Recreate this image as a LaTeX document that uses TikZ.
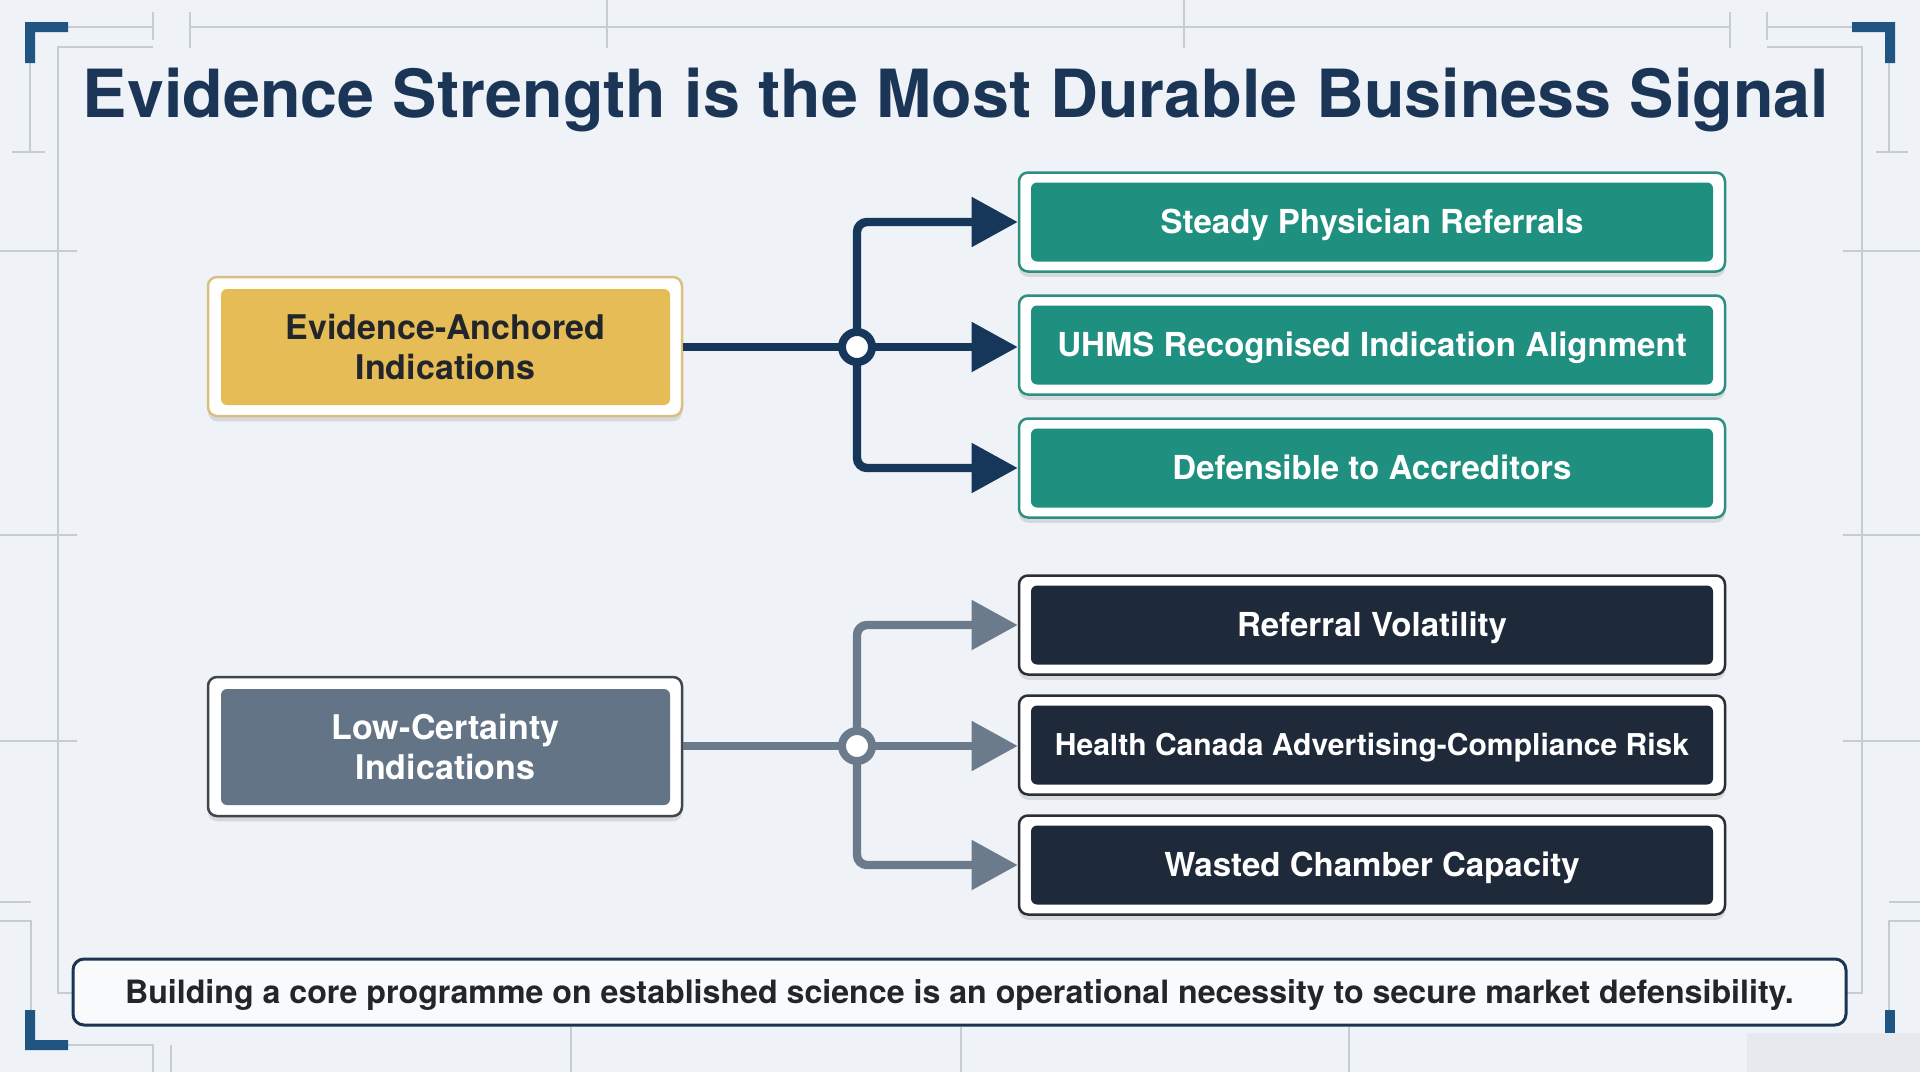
\documentclass[tikz,border=0pt]{standalone}
\usepackage{fontspec}
\setmainfont{TeX Gyre Heros}
\usetikzlibrary{arrows.meta,shadows}
\newlength\pxl \setlength\pxl{0.02cm}
\definecolor{bgc}{HTML}{EFF2F6}
\definecolor{gridc}{HTML}{C5CCD4}
\definecolor{brackc}{HTML}{1F5580}
\definecolor{titlec}{HTML}{1A3556}
\definecolor{navyc}{HTML}{16365A}
\definecolor{grayln}{HTML}{6B7B8C}
\definecolor{goldc}{HTML}{E5BC56}
\definecolor{goldedge}{HTML}{D9C080}
\definecolor{slatec}{HTML}{637486}
\definecolor{slateedge}{HTML}{40464E}
\definecolor{tealc}{HTML}{1F9080}
\definecolor{tealedge}{HTML}{2D8F82}
\definecolor{darkc}{HTML}{1E2A3A}
\definecolor{darkedge}{HTML}{2A2F36}
\definecolor{inkc}{HTML}{22262B}
\definecolor{footc}{HTML}{1A3550}
\definecolor{coverc}{HTML}{E6E9ED}
\tikzset{
  gridln/.style={draw=gridc, line width=1.6\pxl},
  shad/.style={drop shadow={shadow xshift=0pt, shadow yshift=-3pt, opacity=0.10, fill=black}},
  leftouter/.style={draw=#1, line width=2.5\pxl, fill=white, rounded corners=9\pxl, minimum width=474\pxl, minimum height=139\pxl, inner sep=0pt, shad},
  leftinner/.style={fill=#1, rounded corners=6\pxl, minimum width=449\pxl, minimum height=116\pxl, inner sep=0pt, align=center, font=\bfseries\fontsize{19.35}{22.8}\selectfont},
  rightouter/.style={draw=#1, line width=2.5\pxl, fill=white, rounded corners=9\pxl, minimum width=706\pxl, minimum height=99\pxl, inner sep=0pt, shad},
  rightinner/.style={fill=#1, rounded corners=6\pxl, minimum width=682\pxl, minimum height=79\pxl, inner sep=0pt, text=white, text height=13.5pt, text depth=0pt, font=\bfseries\fontsize{18.8}{22}\selectfont},
  conn/.style={draw=#1, line width=4.8pt, rounded corners=5.7pt},
  connarrow/.style={conn=#1, -{Triangle[length=26.2pt, width=27.3pt]}},
  junction/.style={circle, draw=#1, line width=8\pxl, fill=white, minimum size=30\pxl, inner sep=0pt}
}
\begin{document}
\begin{tikzpicture}[x=0.02cm, y=-0.02cm]
\useasboundingbox (0,0) rectangle (1920,1072);
\fill[bgc] (0,0) rectangle (1920,1072);
% frame lines
\draw[gridln] (68,27) -- (153,27) (153,12) -- (153,40);
\draw[gridln] (190,12) -- (190,48) (190,27) -- (1730,27) (1730,12) -- (1730,48);
\draw[gridln] (607,0) -- (607,48) (1184,0) -- (1184,48);
\draw[gridln] (1767,12) -- (1767,40) (1767,27) -- (1852,27);
\draw[gridln] (153,47) -- (58,47) -- (58,993) -- (73,993);
\draw[gridln] (1767,47) -- (1862,47) -- (1862,993) -- (1847,993);
\draw[gridln] (30,63) -- (30,152) (12,152) -- (45,152);
\draw[gridln] (1889,63) -- (1889,152) (1876,152) -- (1908,152);
\foreach \yy in {251,535,741} {
  \draw[gridln] (0,\yy) -- (77,\yy);
  \draw[gridln] (1843,\yy) -- (1920,\yy);
}
\draw[gridln] (0,902) -- (31,902) (0,921) -- (31,921) -- (31,1010);
\draw[gridln] (1920,902) -- (1889,902) (1920,921) -- (1889,921) -- (1889,1010);
\draw[gridln] (68,1045) -- (153,1045) -- (153,1072) (171,1045) -- (171,1072);
\foreach \xx in {571,961,1349} { \draw[gridln] (\xx,1027) -- (\xx,1072); }
% corner brackets
\fill[brackc] (25,22) rectangle (35,63) (25,22) rectangle (68,32);
\fill[brackc] (1885,22) rectangle (1895,63) (1852,22) rectangle (1895,32);
\fill[brackc] (25,1010) rectangle (35,1050) (25,1040) rectangle (68,1050);
\fill[brackc] (1885,1010) rectangle (1895,1035);
\fill[coverc] (1747,1033) rectangle (1920,1072);
% title
\node[anchor=base, text=titlec, font=\bfseries\fontsize{37.8}{44}\selectfont, inner sep=0pt] (title) at (956,117) {Evidence Strength is the Most Durable Business Signal};
% left boxes
\node[leftouter=goldedge] (goldF) at (445,346.5) {};
\node[leftinner=goldc, text=inkc] (gold) at (445.5,347) {Evidence-Anchored\\Indications};
\node[leftouter=slateedge] (slateF) at (445,746.5) {};
\node[leftinner=slatec, text=white] (slate) at (445.5,747) {Low-Certainty\\Indications};
% right top boxes
\node[rightouter=tealedge] (t1F) at (1372,222) {};
\node[rightinner=tealc] (t1) at (1372,222) {Steady Physician Referrals};
\node[rightouter=tealedge] (t2F) at (1372,345) {};
\node[rightinner=tealc] (t2) at (1372,345) {UHMS Recognised Indication Alignment};
\node[rightouter=tealedge] (t3F) at (1372,468) {};
\node[rightinner=tealc] (t3) at (1372,468) {Defensible to Accreditors};
% right bottom boxes
\node[rightouter=darkedge] (d1F) at (1372,625) {};
\node[rightinner=darkc] (d1) at (1372,625) {Referral Volatility};
\node[rightouter=darkedge] (d2F) at (1372,745) {};
\node[rightinner=darkc, text height=12.3pt, font=\bfseries\fontsize{17.1}{20}\selectfont] (d2) at (1372,745) {Health Canada Advertising-Compliance Risk};
\node[rightouter=darkedge] (d3F) at (1372,865) {};
\node[rightinner=darkc] (d3) at (1372,865) {Wasted Chamber Capacity};
% connectors top
\coordinate (j1) at (857,347);
\draw[conn=navyc] (goldF.east |- j1) -- (j1);
\draw[connarrow=navyc] (j1) |- (t1F.west);
\draw[connarrow=navyc] (j1) -- (j1 -| t2F.west);
\draw[connarrow=navyc] (j1) |- (t3F.west);
\node[junction=navyc] (c1) at (j1) {};
% connectors bottom
\coordinate (j2) at (857,746);
\draw[conn=grayln] (slateF.east |- j2) -- (j2);
\draw[connarrow=grayln] (j2) |- (d1F.west);
\draw[connarrow=grayln] (j2) -- (j2 -| d2F.west);
\draw[connarrow=grayln] (j2) |- (d3F.west);
\node[junction=grayln] (c2) at (j2) {};
% footer
\node[draw=footc, line width=3\pxl, fill=white!60!bgc, rounded corners=11\pxl, minimum width=1773\pxl, minimum height=66\pxl, inner sep=0pt, text=inkc, text height=13.2pt, text depth=0pt, font=\bfseries\fontsize{18.3}{21}\selectfont] (foot) at (959.5,992) {Building a core programme on established science is an operational necessity to secure market defensibility.};
\end{tikzpicture}
\end{document}
